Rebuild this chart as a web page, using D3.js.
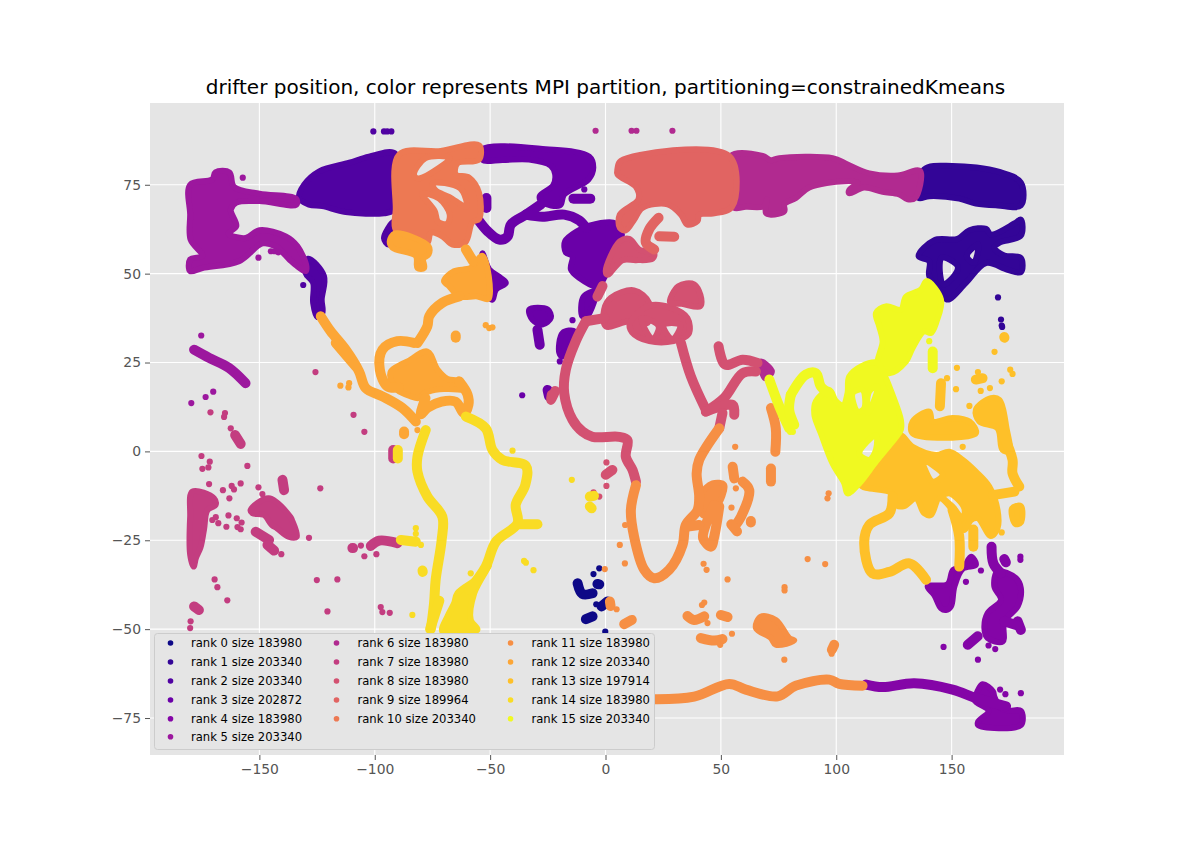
<!DOCTYPE html>
<html>
<head>
<meta charset="utf-8">
<script src="https://cdn.jsdelivr.net/npm/d3@7"></script>
<style>
  body { margin: 0; background: #fff; font-family: "DejaVu Sans", sans-serif; }
  .tick text { fill: #555; font-size: 13.9px; font-family: "DejaVu Sans", sans-serif; }
  .tick line { stroke: #555; }
</style>
</head>
<body>
<div id="chart"></div>
<script>
const titleText = "drifter position, color represents MPI partition, partitioning=constrainedKmeans";
const rankIds = [0, 1, 2, 3, 4, 5, 6, 7, 8, 9, 10, 11, 12, 13, 14, 15];
const rankSizes = [183980, 203340, 203340, 202872, 183980, 203340, 183980, 183980, 183980, 189964, 203340, 183980, 203340, 197914, 183980, 203340];
const xTicks = [-150, -100, -50, 0, 50, 100, 150];
const yTicks = [-75, -50, -25, 0, 25, 50, 75];

// positions, [lon, lat]
// areas: outer ring then holes, bands: thick tracks, dots: single drifters
const rank0Areas = [];
const rank0Bands = [
  [[-12.1,-37.1],[-10,-40.1],[-5.6,-39.9]],
  [[-1.7,-43.6],[0.9,-42.2]],
  [[-8.5,-47.2],[-5.6,-46.4]],
  [[-3.5,-37.3],[-2.7,-37.4]]
];
const rank0Dots = [[-5.2,-34.5],[-2.7,-32.9],[-4,-43],[-0.1,-50.7]];

const rank1Areas = [
  [[[138.1,79.3],[150.4,80.3],[170.7,78.6],[180,75.6],[180,69.2],[169.9,69.2],[160.5,69.7],[153.3,71.1],[140.3,71.8],[135.7,71.3]]],
  [[[140.3,49.3],[140.3,53.5],[135.7,54.9],[142.5,59.4],[152.6,59.8],[157.7,62.2],[164.9,62.6],[167,61],[177.2,64.1],[180,65.2],[180,60.7],[170.7,58.7],[168.5,57.3],[172.8,55.1],[180,54.4],[180,50.4],[174.3,51.1],[164.9,53],[156.2,47.4],[148.3,42.7],[146.1,44.1]],
   [[145.6,54.5],[152.6,52.1],[151.4,49.6],[146.3,47]],
   [[156.6,55],[161.5,58.2],[159.6,53]]]
];
const rank1Bands = [];
const rank1Dots = [[170.1,43.3],[171.4,37.1],[171.7,35.4],[171.9,35]];

const rank2Areas = [
  [[[-132.8,71.3],[-130.6,75],[-124,78.8],[-111,81.2],[-102.5,82.9],[-91,83.7],[-92,67.9],[-96,67],[-112.6,67.3],[-122.7,69],[-128.5,69.4]]],
  [[[-128.8,54.2],[-122,49.3],[-123,42.7],[-122.7,39],[-124.9,37.8],[-126.7,41.8],[-126.7,47.4],[-130,50.2]]],
  [[[-92,64.5],[-96,60],[-94,58.2],[-91.6,62]]]
];
const rank2Bands = [];
const rank2Dots = [[-100.6,90],[-96,90],[-94.6,90],[-92.8,90],[-131,46.8]];

const rank3Areas = [
  [[[-53.3,85],[-25.9,85],[-7.1,82.9],[-5.3,79.8],[-7.4,76.5],[-17.9,72.3],[-19.8,69.2],[-27.3,70.1],[-28.5,71.8],[-22.7,74.8],[-21.8,77.9],[-23.7,80.4],[-33.1,82.1],[-44.6,82],[-53.3,82.1]]],
  [[[-7,63.5],[4.5,64.1],[7.1,61],[2.3,54],[-0.6,48.8],[-3.5,46.3],[-11.4,48.8],[-15,51.2],[-14.3,54.9],[-17.2,56],[-17.5,59.1],[-12.1,62]]],
  [[[-53.3,55.7],[-50.4,51.2],[-45.4,48.8],[-43.2,47.4],[-47.5,45.5],[-49,42.7],[-50.7,43.6]]],
  [[[-33,39.9],[-25.1,39.9],[-23.7,37.6],[-27.3,35.7],[-31.6,37]]],
  [[[-18.6,33.3],[-13.5,33.8],[-14.3,31.4],[-18.6,26.7],[-20,27.7]]],
  [[[-9.5,43.5],[-4,45],[-5,42],[-8,38],[-10,38]]]
];
const rank3Bands = [
  [[-54.8,64.8],[-51.2,62],[-46.1,59.6],[-42.5,60.4],[-41,63.8],[-34.5,66.6],[-28,69.5]],
  [[-34.5,66.6],[-27.3,66],[-17.9,66.6],[-11.4,65],[-8.5,62.9]],
  [[-51.6,71.3],[-51.6,68.5]],
  [[-13.9,71.1],[-6.6,71.1]],
  [[-29.5,34.2],[-28.5,30]],
  [[-25.1,17.3],[-24.5,15.5]]
];
const rank3Dots = [[-9.2,73.7],[-14.3,36.9],[-19.8,25.3],[-36.1,15.8]];

const rank4Areas = [
  [[[161,-67.8],[163.4,-65.5],[167.9,-67.5],[168.5,-69],[171.1,-72],[174.7,-72.9],[180,-73],[180,-77],[161.5,-77],[161.5,-76],[166,-73],[160,-70]]],
  [[[169.9,-33.8],[177.9,-35.7],[180,-38.5],[178.6,-43.6],[172.8,-47.8],[172.1,-53.5],[165.6,-52.5],[164.2,-49.7],[165.6,-45.5],[171.4,-41.8],[168.5,-38]]],
  [[[139.6,-38],[148.3,-37.3],[150.7,-33.3],[154.8,-32.9],[158.4,-29.6],[160.5,-31.9],[154.8,-33],[151.2,-38],[149.7,-43.6],[147.5,-44.6],[145.4,-44.1],[142.5,-40.4]]]
];
const rank4Bands = [
  [[112.9,-65.6],[120.1,-66.3],[133.8,-65.2],[150.4,-67],[160.6,-69.4],[173.6,-71.7]],
  [[178.6,-47.8],[180,-50.2]],
  [[172.8,-47.8],[178.6,-49]],
  [[167.3,-26.8],[168.1,-31.5],[171.4,-34.3]],
  [[157,-54.4],[161.3,-52]],
  [[172.8,-30.3],[173.5,-31.2]]
];
const rank4Dots = [[171,-67],[173.3,-68.3],[180,-68],[161.4,-58.6],[166,-54.6],[168.9,-55.6],[179.8,-29.6],[179.8,-30.5],[146.5,-55],[156.2,-36.7],[162.7,-33.5]];

const rank5Areas = [
  [[[-180,75],[-170.4,76.5],[-169,78.5],[-163,78.5],[-161,74.4],[-150,72.5],[-134,71],[-134,69.4],[-150,70.4],[-160,70],[-162.4,68],[-160,63.4],[-163.4,61.3],[-156,60],[-150,62.2],[-138.6,60.5],[-133.5,57.7],[-129.6,52],[-130,50.7],[-134.2,52.4],[-137,54],[-143,57.7],[-148.7,58.5],[-158.8,53.5],[-174.7,51.6],[-180,50.7],[-180,54],[-174.7,55],[-179.8,59.6],[-180,66.6]]]
];
const rank5Bands = [
  [[-178.3,28.6],[-171.8,26.3],[-163.2,23.5],[-156,19.2]]
];
const rank5Dots = [[-157.2,77],[-150.4,54.5],[-145,56.3],[-143.4,56.3],[-141.8,56],[-175.2,32.6],[-170,16.8],[-173.3,15.3],[-179.5,13.6]];

const rank6Areas = [
  [[[54.3,83.1],[68.1,83.1],[71.7,81.9],[75.3,82.5],[98.4,82.5],[104.9,80.7],[114.3,78.2],[126.7,77.6],[136.3,78.9],[134.2,71.3],[130.9,70.9],[127.3,72.3],[120.1,73],[112.1,74.2],[105.6,72.6],[105.6,73.5],[109.2,75.6],[103.5,76],[88.3,74.2],[82.5,71.3],[77.5,69.5],[77.5,67.6],[71.7,66.6],[69.5,67.1],[69.9,70.9],[68.8,69],[60.8,68.8],[55.8,68.5],[55.1,70.9]]],
  [[[67.3,25.3],[72.1,22.5],[69.1,20.6]]]
];
const rank6Bands = [];
const rank6Dots = [[-4.3,90.2],[11.3,90.2],[13.4,90.2],[29,90.2]];

const rank7Areas = [
  [[[-179,-11.3],[-169.7,-13.2],[-169,-15.1],[-172.5,-16.5],[-174,-22],[-175.5,-27],[-177.5,-30],[-178.5,-32.4],[-180,-29],[-180,-18.4]]],
  [[[-153.8,-16.5],[-146,-13.2],[-136.6,-18.4],[-135.9,-19.3],[-133.8,-24],[-137.4,-24],[-142.4,-21.6],[-144.6,-20.7],[-148,-17.9],[-153,-17.4]]]
];
const rank7Bands = [
  [[-140,-8],[-139.3,-10.9]],
  [[-151.6,-22.6],[-145.8,-24.9]],
  [[-146.5,-26.3],[-143.6,-27.9]],
  [[-109.7,-27.2],[-109.4,-27.2]],
  [[-101.7,-26.6],[-98.1,-25.1],[-90.2,-25.8]],
  [[-160.5,4.6],[-158.1,2.1]],
  [[-178.3,-43.6],[-176.2,-44.6]],
  [[-92,0.4],[-92,-2]]
];
const rank7Dots = [[-175.1,-1.3],[-171.5,-2.9],[-174.7,-4.9],[-172.1,-4.5],[-155.2,-4.1],[-171.8,-9.2],[-165.8,-10.9],[-162,-9.7],[-161,-10.7],[-158.1,-9],[-150.4,-10.1],[-148.7,-12],[-123.6,-10.4],[-163,-13.2],[-163.4,-18],[-168.9,-18.5],[-170.4,-19.3],[-167.8,-20.2],[-164.3,-21.2],[-159.8,-18.8],[-157.7,-20],[-159.5,-21.3],[-158.1,-21.9],[-140.5,-28.9],[-128.5,-24.3],[-169.4,-36],[-168.2,-38.2],[-163.9,-41.9],[-179.8,-47.8],[-180,-49.7],[-125.1,-36.2],[-116.2,-36],[-120.5,-45],[-97.4,-43.8],[-96.7,-45.2],[-93.5,-45.4],[-104.5,-29.5],[-99.3,-28.9],[-125.7,22.3],[-109.2,10.3],[-104.5,5.5],[-171.2,11],[-164.9,10.8],[-165.3,9.7],[-162.4,6.5],[-106,-26.5]];

const rank8Areas = [
  [[[6.2,59.1],[10.3,59.8],[14.6,56.8],[21.1,55.7],[20.4,54.2],[13.2,53.8],[7.4,53.8],[0.9,49.7],[0.1,50.7]]],
  [[[-0.6,39.9],[2.3,43.2],[12.4,45.3],[18.9,41.8],[18.2,36.1],[10.3,36.6],[0.1,35.2]]],
  [[[19,41],[28,40.5],[35.5,37.5],[36,33],[29.5,31],[19,31],[11.5,33.5],[10.5,36]],
   [[15.5,37.5],[23,35.2],[20.4,31.5]],
   [[25,35.6],[32.4,35.6],[29,31.5]]],
  [[[28,41.8],[31.6,46.5],[38.4,47],[41.5,43],[41,40.8],[33,41.5]]]
];
const rank8Bands = [
  [[-3.5,43.6],[-1.3,46.5]],
  [[-8.5,36.6],[-0.5,37.5]],
  [[-8.5,36.6],[-12.9,31],[-17.2,23],[-17.9,16.4],[-14.3,8.9],[-10,5.6],[-5.6,4.1],[5.9,4.1],[9.5,3.2],[8.8,-1.5],[11.7,-5.2],[13.2,-8.5]],
  [[-23.3,15.9],[-23.7,14.5],[-21.8,17]],
  [[32.7,30.5],[37,21.1],[43.5,11.7]],
  [[43.5,11.2],[51.4,15],[59.4,22],[65.2,22.5]],
  [[49,29.6],[51.9,24.4],[59.4,25.8],[65.9,24.9]],
  [[43.5,11.2],[55,13.1],[55.8,10.3]],
  [[50.7,10.8],[49.3,6.5]],
  [[0.1,-6.6],[3,-5.2]]
];
const rank8Dots = [[0.4,-3.1],[0.4,-9.7],[-2.7,-12.7],[-5.2,-11.5]];

const rank9Areas = [
  [[[6.6,81.7],[53.6,83.1],[54.8,68.8],[46.4,66.9],[40.6,66.6],[39.9,64.8],[35.5,63.8],[32.7,66.6],[26.9,69.5],[16,68.5],[12.4,65.2],[8.8,62.2],[6.2,62.9],[6.2,66.6],[14.3,70.9],[13.2,74.4],[5.2,77.9],[5.2,79.5]]]
];
const rank9Bands = [
  [[23,65.7],[18.9,62.4],[17.5,58.7],[21.1,56.8]],
  [[23.3,60.5],[29.8,60.4]]
];
const rank9Dots = [];

const rank10Areas = [
  [[[-89.4,83.5],[-71.4,84.5],[-54.8,86.1],[-54.8,82.1],[-64.2,81],[-64.9,77.9],[-59.1,77],[-54.8,72.7],[-54.8,65.4],[-57.7,64.5],[-60.8,58.7],[-66.3,58.2],[-70.7,60.5],[-75.7,61.5],[-77.2,58.7],[-83.7,60.1],[-90.9,62.4],[-90.9,68.1]],
   [[-78,82.5],[-67.5,82.5],[-72.1,79.8],[-81.5,76.8],[-83,77.9]],
   [[-75,75.4],[-63,74],[-60.2,68.8],[-67.8,71.6],[-73.6,73.4]],
   [[-79.5,72.5],[-72.1,71.1],[-67.5,66.6],[-68.7,64],[-72.6,64.6],[-74,67.6]]]
];
const rank10Bands = [];
const rank10Dots = [];

const rank11Areas = [
  [[[41.3,-12.3],[46.4,-9],[51.4,-9.4],[47.8,-16],[42.1,-17.9]]],
  [[[65.2,-49.7],[67.3,-46.5],[73.8,-47.4],[79.6,-52.5],[81.8,-53.2],[73.8,-54.4],[71.7,-52.5]]]
];
const rank11Bands = [
  [[49.3,6.5],[40.6,-2.4],[39.5,-6.2],[40.6,-12.7],[39.9,-16.5],[34.8,-20.7],[33.4,-26.3],[27.6,-33.3],[21.1,-35.7],[16.8,-33.3],[12.4,-24],[11,-16.5],[13.2,-9.5]],
  [[49.3,-15.5],[47.1,-24],[45.7,-26.8],[42.3,-24.4],[44.2,-19.3],[47.1,-15.1]],
  [[34.8,-21.2],[40.6,-20.7]],
  [[59.4,-8.5],[62.3,-10.9],[58.7,-18.4],[55.8,-21.2]],
  [[54.5,-20.5],[57,-22.5]],
  [[63,-19.6],[63,-20]],
  [[55.1,-4.3],[55.8,-7.6]],
  [[71.7,12.2],[73.8,6.5],[73.6,-0.1]],
  [[71.7,-4.8],[71.7,-8.5]],
  [[1.9,-42.2],[2.2,-43.5]],
  [[8.1,-48.6],[11.4,-47.4]],
  [[35.5,-46.3],[38.4,-47.4],[42.8,-46.4]],
  [[50,-46],[52.9,-46.6]],
  [[41.3,-52.5],[47.1,-53.2],[50.7,-52.8]],
  [[99.1,-54.4],[98.1,-55.8]],
  [[21.1,-69.7],[38.4,-69],[53.6,-65.4],[60.8,-67],[74.6,-68.9],[82.5,-65.9],[97,-64.2],[101.3,-65.4],[111.4,-65.9]]
];
const rank11Dots = [[56.5,-10.4],[54.6,-15.8],[56.2,1.3],[96.7,-11.8],[96.2,-13.2],[8.5,-20.7],[6.2,-26.3],[8.4,-31.5],[-0.3,-33.1],[4.8,-44.4],[42.5,-31.6],[43.8,-33.3],[52.9,-36],[87.6,-30.3],[95.2,-31.7],[77.6,-38.2],[77.6,-39.1],[42.8,-42.5],[41.8,-43.2],[54.8,-51.3],[49.7,-54.4],[77.5,-58.6],[44.2,-48.3],[98,-56.9]];

const rank12Areas = [
  [[[-91.2,61.3],[-76.7,57.7],[-76.7,55.4],[-79,54.2],[-78.6,51.6],[-81.5,51.6],[-82.2,55],[-92.3,57.3],[-93.5,59.1]]],
  [[[-53.3,55],[-50.7,42.9],[-55.5,43.6],[-63.4,43.6],[-67.8,46.5],[-70,47.9],[-65.6,50.7],[-58.4,51.6]]],
  [[[-85.8,25.3],[-77.2,28.1],[-72.8,23],[-68.5,20.4],[-63.4,19.7],[-61,17.5],[-66,17.5],[-72,17.5],[-78,16.5],[-81,15],[-84.4,15.5],[-90.2,17.3],[-93,20.2],[-93,22.5],[-88.7,24.4]]]
];
const rank12Bands = [
  [[-60.5,56.8],[-57.4,53.5]],
  [[-63.4,43.6],[-70.7,41.8],[-76.4,38],[-77.2,35.2],[-81.5,30.5]],
  [[-64.9,32.6],[-64.9,32]],
  [[-83,30.5],[-90.2,31],[-96.7,28.6],[-97.8,23],[-94.5,18.3],[-89.5,18]],
  [[-123.4,38],[-119.1,33.8],[-112.6,28.6],[-106.8,22.5],[-103.9,17.8],[-96.7,15.5],[-88,12.2],[-82.2,8.4]],
  [[-116.9,30.5],[-108.2,23.9]],
  [[-63.4,19.7],[-59.8,16],[-59.4,13.1],[-61.3,10.8],[-65,14],[-71,14],[-77,12.3],[-80,10.5],[-78,15]],
  [[-87.3,5.6],[-87.3,4.8]]
];
const rank12Dots = [[-51.9,35.5],[-50.4,34.7],[-49,34.9],[-114.9,18.5],[-111.1,19.2],[-111.4,18],[-81.5,6]];

const rank13Areas = [
  [[[110.7,-9.5],[117.2,-4.8],[127.3,4.6],[133.1,1.3],[143.2,-1],[149,-0.1],[154.8,-2.4],[160.5,-5.7],[166.3,-9.9],[169.9,-16.5],[169.9,-21.6],[167,-23.8],[161.3,-18.8],[158.4,-19.3],[155.5,-22.1],[150.4,-16.5],[144.7,-13.2],[141,-17.9],[138.1,-17.4],[134.5,-13.2],[129.5,-15.4],[125.9,-15.1],[124.4,-11.8]],
   [[137.4,-2.4],[146.1,-6.6],[141.8,-8.5]],
   [[146.1,-12.7],[149,-11.8],[155.5,-16],[154.8,-18.8],[150.4,-15.5]]],
  [[[176.2,-16],[180,-15.4],[180,-20],[177.6,-20.4]]],
  [[[160.5,11.7],[167,15],[170.7,14.5],[173.8,6.5],[175,0],[172,0.5],[169.9,6.5],[162,8.4]]],
  [[[133.1,8.4],[140.3,11.2],[141.8,8.4],[150.4,9.4],[157.7,8.4],[160.5,5.1],[133.1,5.1]]]
];
const rank13Bands = [
  [[150.4,-16.5],[153.3,-24],[153.3,-32.4]],
  [[124.4,-12.7],[123,-17.4],[114.3,-20.7],[112.1,-25.8],[115.7,-34.3],[123,-33.9],[131.7,-31.5],[138.9,-36.1]],
  [[159.4,-22],[159.4,-26.8]],
  [[172.1,5],[176.4,-2.4],[176.4,-6.2],[179.3,-9.9]],
  [[167.9,-12.3],[177.2,-11.3]],
  [[145.4,19.2],[144.9,12.7]],
  [[160.5,20.2],[163.4,20.6]],
  [[172.8,32.2],[172.9,32]]
];
const rank13Dots = [[155.8,-17.6],[171.7,-22.8],[154.8,1.3],[152.3,23.5],[148,20.6],[151.9,17.5],[161.4,22.3],[162.6,17],[166.6,17.8],[175.4,23],[176.4,21.8],[171.7,19.7],[168.6,28],[157.7,12.8]];

const rank14Areas = [
  [[[-64.2,-39.9],[-55.5,-35.7],[-50.4,-31.9],[-56.9,-39.9],[-58.4,-47.4],[-55.5,-50.2],[-70.7,-50.7],[-68.5,-46.4],[-65.6,-42.7]]]
];
const rank14Bands = [
  [[-77.9,6],[-81.5,-1.5],[-81.5,-5.7],[-77.2,-12.7],[-70.7,-18.4],[-71,-24.9],[-73.6,-36.1],[-74.3,-42.7],[-75.7,-50]],
  [[-72,-42],[-76,-50]],
  [[-60.5,9.8],[-51.9,6.5],[-49,0.4],[-44.7,-2.4],[-34.5,-4.1],[-34.8,-9.5],[-38.9,-15],[-38.1,-20.2],[-47.5,-25.4],[-51.9,-32.4],[-59.1,-39]],
  [[-37.4,-20.5],[-29.5,-20.5]],
  [[-90,0.4],[-90,-2]],
  [[-79.3,-33.5],[-79.2,-33.9]],
  [[-88.7,-24.9],[-82.2,-25.4]],
  [[-6.8,-12.7],[-5,-12.5]],
  [[-6.8,-15.5],[-6,-16]]
];
const rank14Dots = [[-14.6,-8],[-35.3,-30.8],[-34.5,-31.3],[-31.2,-33.4],[-83.7,-46],[-82.2,-21.6],[-82.2,-23.2],[-80,-26.3],[-40.3,0.2],[-58.4,-34.3]];

const rank15Areas = [
  [[[139.2,47.9],[145.4,42.7],[143.5,36.6],[141,33.3],[138.1,33.8],[133.1,29.1],[130.2,25.3],[123,22],[117.9,23.9],[120.1,31],[118.6,35.2],[117.2,38.9],[121.5,40.8],[128,39.9],[130.2,43.5],[136.7,45.5]]],
  [[[121.5,20.6],[124.1,16.4],[128,8.9],[128,6.1],[126.6,4.6],[117.2,-2.9],[110,-9],[104.9,-11.8],[103.5,-9],[98.4,-3.4],[93.4,5],[90.5,10.3],[91.2,14.1],[97,17.3],[99.9,14.1],[103,13],[104.9,16.4],[105.6,21],[111,24],[117.9,24.9]],
   [[107.1,16.4],[111.4,17.3],[112.1,12.1],[109.3,11.2]],
   [[114.3,16.9],[117.9,18.3],[116.5,14.5],[113.6,10.8]],
   [[110,-0.6],[117.2,4.6],[117.2,0.4],[114.3,-2.4]]]
];
const rank15Bands = [
  [[141.8,28.1],[141.8,23.4]],
  [[80.3,15.9],[86.8,21.6],[91.2,22],[93.3,18.3],[97,16.4]],
  [[71,20.2],[75.3,12.7],[79.6,6.5]],
  [[80.3,15.9],[79.6,11.7],[81.8,7.5]]
];
const rank15Dots = [[140.3,31],[80,5.5],[81.2,5.5]];

const rankAreas = [rank0Areas, rank1Areas, rank2Areas, rank3Areas, rank4Areas, rank5Areas, rank6Areas, rank7Areas, rank8Areas, rank9Areas, rank10Areas, rank11Areas, rank12Areas, rank13Areas, rank14Areas, rank15Areas];
const rankBands = [rank0Bands, rank1Bands, rank2Bands, rank3Bands, rank4Bands, rank5Bands, rank6Bands, rank7Bands, rank8Bands, rank9Bands, rank10Bands, rank11Bands, rank12Bands, rank13Bands, rank14Bands, rank15Bands];
const rankDots = [rank0Dots, rank1Dots, rank2Dots, rank3Dots, rank4Dots, rank5Dots, rank6Dots, rank7Dots, rank8Dots, rank9Dots, rank10Dots, rank11Dots, rank12Dots, rank13Dots, rank14Dots, rank15Dots];

const width = 1182, height = 848;
const left = 150, right = 1064, top_ = 103, bottom = 755;

const svg = d3.select("#chart").append("svg")
    .attr("width", width)
    .attr("height", height);

const x = d3.scaleLinear().domain([-197.4, 198.7]).range([left, right]);
const y = d3.scaleLinear().domain([-85.4, 98]).range([bottom, top_]);
const color = r => d3.interpolatePlasma(r / 15);

svg.append("rect")
    .attr("x", left).attr("y", top_)
    .attr("width", right - left).attr("height", bottom - top_)
    .attr("fill", "#e5e5e5");

// grid
svg.append("g").selectAll("line").data(xTicks).join("line")
    .attr("x1", d => x(d)).attr("x2", d => x(d))
    .attr("y1", top_).attr("y2", bottom)
    .attr("stroke", "#fff").attr("stroke-width", 1.1);
svg.append("g").selectAll("line").data(yTicks).join("line")
    .attr("x1", left).attr("x2", right)
    .attr("y1", d => y(d)).attr("y2", d => y(d))
    .attr("stroke", "#fff").attr("stroke-width", 1.1);

// rounded outlines, the drifter clouds have no hard corners
const ringLine = d3.line().curve(d3.curveCatmullRomClosed.alpha(0.5)).x(d => x(d[0])).y(d => y(d[1]));
const bandLine = d3.line().curve(d3.curveCatmullRom.alpha(0.5)).x(d => x(d[0])).y(d => y(d[1]));

rankIds.forEach(r => {
    const g = svg.append("g").attr("class", "rank").attr("fill", color(r)).attr("stroke", color(r));
    g.selectAll("path.area").data(rankAreas[r]).join("path")
        .attr("class", "area")
        .attr("d", rings => rings.map(ring => ringLine(ring)).join(""))
        .attr("fill-rule", "evenodd")
        .attr("stroke-width", 6)
        .attr("stroke-linejoin", "round");
    g.selectAll("path.band").data(rankBands[r]).join("path")
        .attr("class", "band")
        .attr("d", bandLine)
        .attr("fill", "none")
        .attr("stroke-width", 10)
        .attr("stroke-linecap", "round")
        .attr("stroke-linejoin", "round");
    g.selectAll("circle").data(rankDots[r]).join("circle")
        .attr("cx", d => x(d[0]))
        .attr("cy", d => y(d[1]))
        .attr("r", 3.1)
        .attr("stroke", "none");
});

// axes
const xAxis = svg.append("g")
    .attr("transform", `translate(0,${bottom})`)
    .call(d3.axisBottom(x).tickValues(xTicks).tickSize(5).tickPadding(4).tickFormat(d3.format("d")));
const yAxis = svg.append("g")
    .attr("transform", `translate(${left},0)`)
    .call(d3.axisLeft(y).tickValues(yTicks).tickSize(5).tickPadding(4).tickFormat(d3.format("d")));
xAxis.select(".domain").remove();
yAxis.select(".domain").remove();

svg.append("text")
    .attr("x", 605.5)
    .attr("y", 94)
    .attr("text-anchor", "middle")
    .attr("font-size", 20.05)
    .attr("fill", "#000")
    .text(titleText);

// legend
const legend = svg.append("g");
legend.append("rect")
    .attr("x", 154.5).attr("y", 633.5)
    .attr("width", 500).attr("height", 116)
    .attr("rx", 3)
    .attr("fill", "#e5e5e5")
    .attr("stroke", "#ccc");

const legendCols = [[170.5, 191], [336.5, 357.5], [510.5, 531.5]];
const legendRows = [643, 662, 681, 700, 718.7, 736.7];
const legendSplit = r => r < 6 ? [0, r] : r < 11 ? [1, r - 6] : [2, r - 11];

const items = legend.selectAll("g").data(rankIds).join("g");
items.append("circle")
    .attr("cx", r => legendCols[legendSplit(r)[0]][0])
    .attr("cy", r => legendRows[legendSplit(r)[1]])
    .attr("r", 2.8)
    .attr("fill", color);
items.append("text")
    .attr("x", r => legendCols[legendSplit(r)[0]][1])
    .attr("y", r => legendRows[legendSplit(r)[1]] + 4)
    .attr("font-size", 11.6)
    .attr("fill", "#000")
    .text(r => `rank ${r} size ${rankSizes[r]}`);
</script>
</body>
</html>
